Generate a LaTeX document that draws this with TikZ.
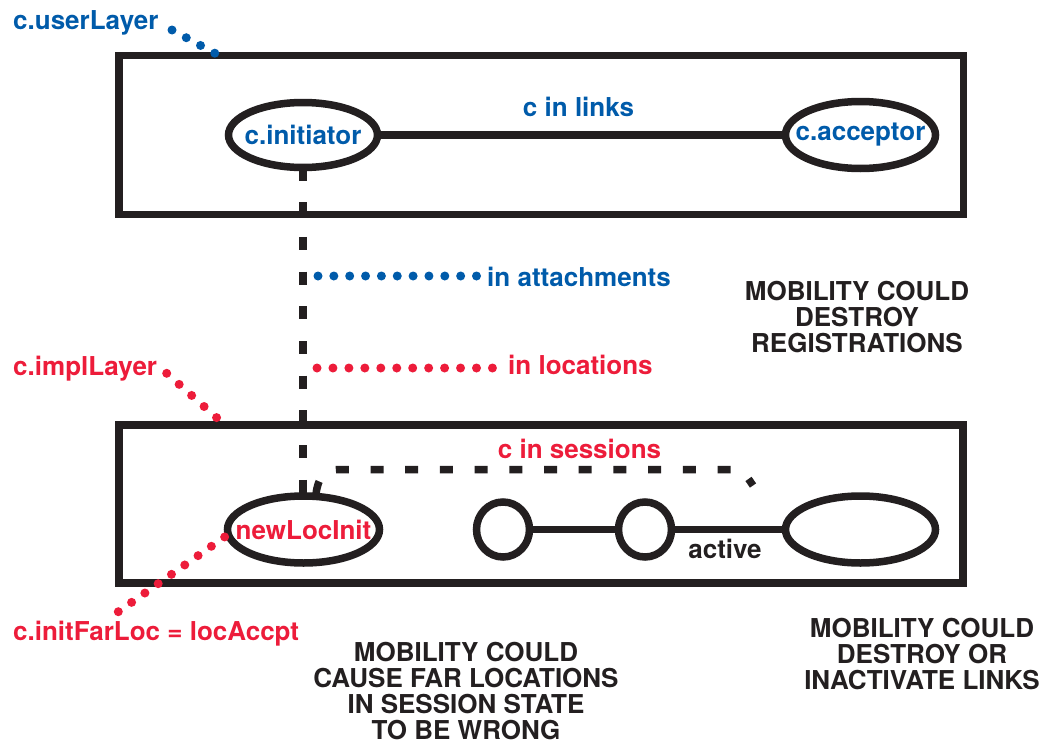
\documentclass[tikz,border=0pt]{standalone}
\usepackage{fontspec}
\setmainfont{TeX Gyre Heros}
\usetikzlibrary{shapes.geometric}
\definecolor{inkblack}{HTML}{231F20}
\definecolor{userblue}{HTML}{005BAA}
\definecolor{implred}{HTML}{ED1C3A}
\begin{document}
\begin{tikzpicture}[x=1pt,y=-1pt,
  lbl/.style={inner sep=0pt, font=\fontsize{26}{26}\selectfont\bfseries},
  note/.style={lbl, inkblack, align=center},
  layerbox/.style={draw=inkblack, line width=7.5pt, inner sep=0pt, outer sep=0pt},
  oval/.style={ellipse, draw=inkblack, line width=7.5pt, inner sep=0pt, outer sep=0pt},
  link/.style={draw=inkblack, line width=7.5pt},
  chain/.style={draw=inkblack, line width=7.5pt, dash pattern=on 13pt off 21.7pt},
  leader/.style={line width=9pt, line cap=round},
]
\useasboundingbox (0,0) rectangle (1042,744);
\fill[white] (0,0) rectangle (1042,744);

% layer boxes
\node[layerbox, minimum width=844.5pt, minimum height=159pt] (userBox) at (541.25,135) {};
\node[layerbox, minimum width=844pt, minimum height=158pt] (implBox) at (541,504) {};

% user layer: link between endpoints
\node[oval, minimum width=149pt, minimum height=65pt] (init) at (303,135) {};
\node[lbl, userblue] (initTxt) at (init) {c.initiator};
\node[oval, minimum width=150pt, minimum height=67pt] (accpt) at (860.5,135) {};
\node[lbl, userblue] (accptTxt) at (accpt) {c.acceptor};
\draw[link] (init) -- (accpt);
\node[lbl, userblue, anchor=base] (linksTxt) at (578.5,116) {c in links};

% implementation layer
\node[oval, minimum width=152pt, minimum height=67pt] (newLoc) at (303.5,529.5) {};
\node[lbl, implred] (newLocTxt) at (newLoc) {newLocInit};
\node[oval, minimum width=53pt, minimum height=55pt] (hopA) at (503,529.5) {};
\node[oval, minimum width=53pt, minimum height=55pt] (hopB) at (645,529.5) {};
\node[oval, minimum width=150pt, minimum height=67pt] (farEnd) at (860.5,529.5) {};
\draw[link] (hopA) -- (hopB);
\draw[link] (hopB) -- (farEnd);
\node[lbl, inkblack, anchor=base] (activeTxt) at (725,558) {active};

% attachment / location chain between the layers
\draw[chain] (init.south) -- (init.south |- newLoc.north);

% session
\coordinate (sessStart) at (316,494);
\coordinate (sessEnd) at (753,485.5);
\draw[chain] (sessStart) .. controls (318,478) and (324,469.5) .. (338,469.5)
  -- (736,469.5) .. controls (742,469.5) and (746,475) .. (sessEnd);
\node[lbl, implred, anchor=base] (sessTxt) at (579.5,458) {c in sessions};

% labels with dotted leaders
\node[lbl, userblue, anchor=base west] (userTxt) at (13,29.5) {c.userLayer};
\coordinate (userA) at (172,30);
\coordinate (userB) at (215,53.3);
\draw[leader, userblue, dash pattern=on 0pt off 16.22pt] (userA) -- (userB);

\node[lbl, userblue, anchor=base west] (attTxt) at (487,286.5) {in attachments};
\coordinate (attA) at (318,276);
\coordinate (attB) at (477,276);
\draw[leader, userblue, dash pattern=on 0pt off 15.85pt] (attA) -- (attB);

\node[lbl, implred, anchor=base west] (locTxt) at (508,374) {in locations};
\coordinate (locA) at (317,368);
\coordinate (locB) at (493,368);
\draw[leader, implred, dash pattern=on 0pt off 15.95pt] (locA) -- (locB);

\node[lbl, implred, anchor=base west] (implTxt) at (13,375) {c.implLayer};
\coordinate (implA) at (166.7,373.3);
\coordinate (implB) at (216.7,417.7);
\draw[leader, implred, dash pattern=on 0pt off 16.67pt] (implA) -- (implB);

\node[lbl, implred, anchor=base west] (farTxt) at (13,640) {c.initFarLoc = locAccpt};
\coordinate (farA) at (118.3,611.7);
\coordinate (farB) at (225,536.7);
\draw[leader, implred, dash pattern=on 0pt off 16.25pt] (farA) -- (farB);

% remarks
\node[note] (noteReg) at (857,317) {MOBILITY COULD\\DESTROY\\REGISTRATIONS};
\node[note] (noteSess) at (466,691) {MOBILITY COULD\\CAUSE FAR LOCATIONS\\IN SESSION STATE\\TO BE WRONG};
\node[note] (noteLinks) at (922,654) {MOBILITY COULD\\DESTROY OR\\INACTIVATE LINKS};
\end{tikzpicture}
\end{document}
